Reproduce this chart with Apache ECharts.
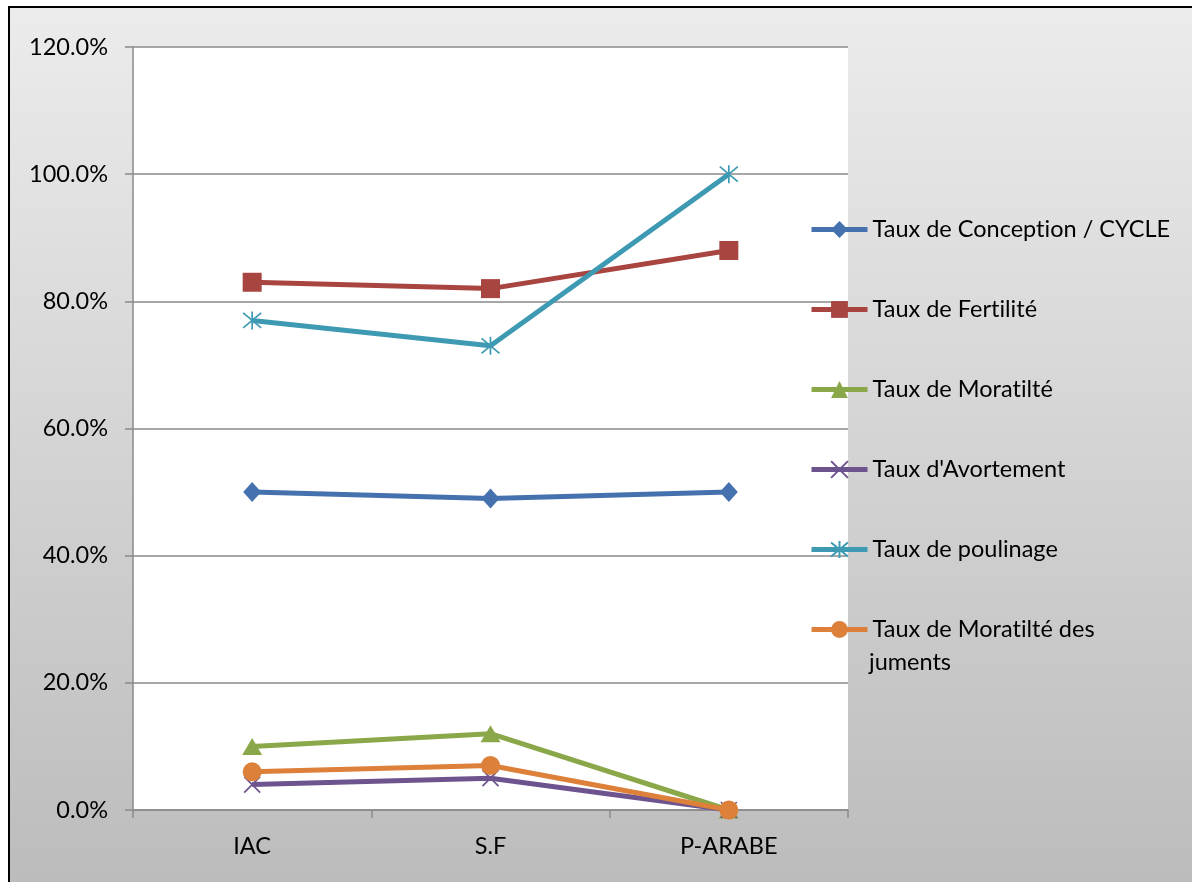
<!DOCTYPE html>
<html>
<head>
<meta charset="utf-8">
<script src="https://cdn.jsdelivr.net/npm/echarts@6/dist/echarts.min.js"></script>
<style>
  html, body { margin: 0; padding: 0; background: #ffffff; }
  #chart { width: 1192px; height: 882px; }
</style>
</head>
<body>
<div id="chart"></div>
<script>
// Breeds compared
const categories = ['IAC', 'S.F', 'P-ARABE'];

// Rates per breed, in percent
const tauxConception = [50, 49, 50];
const tauxFertilite = [83, 82, 88];
const tauxMortalite = [10, 12, 0];
const tauxAvortement = [4, 5, 0];
const tauxPoulinage = [77, 73, 100];
const tauxMortaliteJuments = [6, 7, 0];

const seriesNames = [
  'Taux de Conception / CYCLE',
  'Taux de Fertilité',
  'Taux de Moratilté',
  "Taux d'Avortement",
  'Taux de poulinage',
  'Taux de Moratilté des juments'
];

const FONT = 'Lato';
const FONT_SIZE = 23.5;
const colors = ['#4572ae', '#a84541', '#8aa84a', '#6e548f', '#3e9ab3', '#dd803a'];

// keep "ti" as two separate glyphs (no ligature)
function noLig(s) { return s.replace(/ti/g, 't\u200Ci'); }

const chart = echarts.init(document.getElementById('chart'), null, { renderer: 'canvas' });

function lineSeries(name, data, color, symbol, size, hollow) {
  return {
    name: name,
    type: 'line',
    data: data,
    symbol: symbol,
    symbolSize: size,
    showAllSymbol: true,
    lineStyle: { color: color, width: 5 },
    itemStyle: hollow
      ? { color: 'rgba(0,0,0,0)', borderColor: color, borderWidth: 1.7 }
      : { color: color, borderWidth: 0 },
    emphasis: { disabled: true },
    animation: false,
    z: 3
  };
}

const crossPath = 'path://M0,0L10,10M10,0L0,10';
const starPath = 'path://M0,0L10,10M10,0L0,10M5,-1L5,11';

const option = {
  backgroundColor: {
    type: 'linear', x: 0, y: 0, x2: 0, y2: 1,
    colorStops: [
      { offset: 0, color: '#ececec' },
      { offset: 1, color: '#bcbcbc' }
    ]
  },
  graphic: [
    {
      // white strip outside the chart frame
      type: 'polygon',
      shape: { points: [[0, 0], [1192, 0], [1192, 6], [8, 6], [8, 882], [0, 882]] },
      style: { fill: '#ffffff' },
      silent: true, z: 100
    },
    {
      type: 'polyline',
      shape: { points: [[9, 882], [9, 7], [1192, 7]] },
      style: { stroke: '#000000', lineWidth: 2, fill: 'none' },
      silent: true, z: 101
    },
    {
      // second line of the last legend entry
      type: 'text',
      left: 869,
      top: 650,
      style: { text: 'juments', font: FONT_SIZE + 'px ' + FONT, fill: '#000000' },
      silent: true, z: 50
    }
  ],
  grid: {
    left: 133, right: 344, top: 47, bottom: 72,
    show: true, backgroundColor: '#ffffff', borderWidth: 0
  },
  legend: {
    orient: 'vertical',
    left: 809,
    top: 216,
    padding: 0,
    itemGap: 53,
    itemWidth: 56,
    itemHeight: 21,
    selectedMode: false,
    lineStyle: { width: 5 },
    textStyle: { fontFamily: FONT, fontSize: FONT_SIZE, color: '#000000', lineHeight: 27 },
    formatter: function (name) {
      return noLig(name === seriesNames[5] ? 'Taux de Moratilté des' : name);
    },
    data: seriesNames
  },
  xAxis: {
    type: 'category',
    data: categories,
    boundaryGap: true,
    axisLine: { show: true, lineStyle: { color: '#8a8a8a', width: 1.5 } },
    axisTick: { show: true, length: 8, alignWithLabel: false, lineStyle: { color: '#8a8a8a', width: 1.5 } },
    axisLabel: { fontFamily: FONT, fontSize: FONT_SIZE, color: '#000000', margin: 24 },
    splitLine: { show: false }
  },
  yAxis: {
    type: 'value',
    min: 0, max: 120, interval: 20,
    axisLine: { show: true, lineStyle: { color: '#8a8a8a', width: 1.5 } },
    axisTick: { show: true, length: 8, lineStyle: { color: '#8a8a8a', width: 1.5 } },
    axisLabel: {
      fontFamily: FONT, fontSize: FONT_SIZE, color: '#000000', margin: 25,
      formatter: function (v) { return v.toFixed(1) + '%'; }
    },
    splitLine: { show: true, lineStyle: { color: '#8a8a8a', width: 1.5 } }
  },
  series: [
    lineSeries(seriesNames[0], tauxConception, colors[0], 'diamond', [18, 20], false),
    lineSeries(seriesNames[1], tauxFertilite, colors[1], 'rect', 19, false),
    lineSeries(seriesNames[2], tauxMortalite, colors[2], 'triangle', [20, 17], false),
    lineSeries(seriesNames[3], tauxAvortement, colors[3], crossPath, 16, true),
    lineSeries(seriesNames[4], tauxPoulinage, colors[4], starPath, 18, true),
    lineSeries(seriesNames[5], tauxMortaliteJuments, colors[5], 'circle', 19, false)
  ]
};

chart.setOption(option);
</script>
</body>
</html>
